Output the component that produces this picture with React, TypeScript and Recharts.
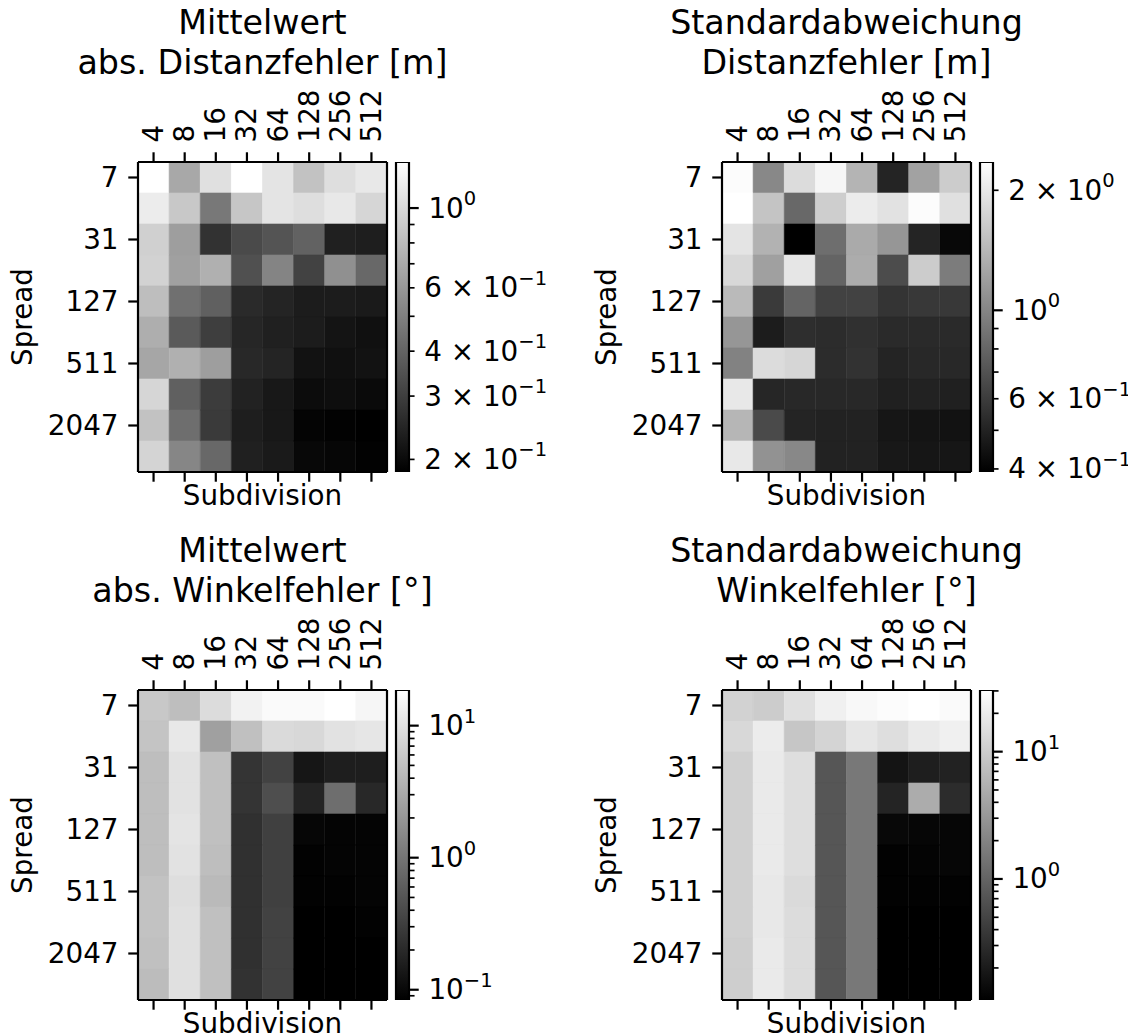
import React from 'react';
import { BarChart, Bar, XAxis, YAxis, Cell } from 'recharts';

// ---------- data ----------
const subdivisions = ['4', '8', '16', '32', '64', '128', '256', '512'];
const spreads = [7, 15, 31, 63, 127, 255, 511, 1023, 2047, 4095];

// rows = spreads (top to bottom), columns = subdivisions
const meanDistErr = [
  [1.343, 0.682, 1.054, 1.343, 1.089, 0.836, 1.038, 1.122],
  [1.159, 0.875, 0.47, 0.861, 1.089, 1.038, 1.122, 0.975],
  [0.931, 0.631, 0.272, 0.328, 0.355, 0.395, 0.237, 0.233],
  [0.946, 0.641, 0.726, 0.344, 0.515, 0.308, 0.566, 0.415],
  [0.809, 0.442, 0.389, 0.256, 0.244, 0.23, 0.23, 0.226],
  [0.715, 0.372, 0.299, 0.248, 0.237, 0.23, 0.216, 0.209],
  [0.671, 0.726, 0.631, 0.252, 0.244, 0.212, 0.209, 0.212],
  [0.975, 0.389, 0.294, 0.24, 0.222, 0.203, 0.206, 0.2],
  [0.836, 0.435, 0.29, 0.233, 0.222, 0.19, 0.187, 0.1845],
  [0.961, 0.524, 0.415, 0.237, 0.226, 0.197, 0.193, 0.187],
];

const stdDistErr = [
  [2.307, 1.021, 1.841, 2.213, 1.39, 0.506, 1.225, 1.644],
  [2.355, 1.556, 0.815, 1.667, 2.061, 1.921, 2.307, 1.892],
  [1.95, 1.371, 0.393, 0.851, 1.297, 1.127, 0.506, 0.415],
  [1.791, 1.208, 1.977, 0.792, 1.315, 0.67, 1.644, 0.938],
  [1.449, 0.59, 0.792, 0.624, 0.624, 0.566, 0.582, 0.582],
  [1.127, 0.478, 0.542, 0.535, 0.55, 0.527, 0.527, 0.527],
  [0.979, 1.841, 1.766, 0.535, 0.558, 0.506, 0.52, 0.52],
  [2.004, 0.513, 0.52, 0.52, 0.52, 0.492, 0.499, 0.492],
  [1.409, 0.661, 0.506, 0.499, 0.499, 0.458, 0.452, 0.446],
  [2.004, 1.094, 1.021, 0.499, 0.499, 0.465, 0.458, 0.458],
];

const meanAngErr = [
  [5.81, 4.69, 8.87, 14.13, 16.75, 16.75, 18.62, 15.38],
  [5.33, 11.43, 2.48, 4.9, 8.49, 8.15, 10.07, 10.96],
  [4.69, 10.07, 4.9, 0.252, 0.339, 0.133, 0.158, 0.158],
  [4.69, 10.07, 4.9, 0.252, 0.437, 0.179, 0.861, 0.195],
  [4.69, 10.5, 4.9, 0.231, 0.324, 0.0948, 0.091, 0.091],
  [4.69, 10.07, 4.69, 0.231, 0.324, 0.0871, 0.091, 0.091],
  [5.11, 9.25, 4.31, 0.231, 0.324, 0.0871, 0.0871, 0.091],
  [5.11, 9.66, 4.9, 0.231, 0.339, 0.0836, 0.0836, 0.0871],
  [4.9, 9.66, 4.9, 0.231, 0.339, 0.0836, 0.0836, 0.0836],
  [4.5, 9.66, 4.9, 0.241, 0.339, 0.0836, 0.0836, 0.0836],
];

const stdAngErr = [
  [11.35, 9.95, 15.45, 21.97, 26.2, 28.6, 30.5, 27.4],
  [12.97, 20.1, 8.73, 11.86, 17.6, 14.79, 19.2, 21.97],
  [10.86, 19.2, 14.79, 0.743, 1.57, 0.174, 0.217, 0.237],
  [10.86, 19.2, 14.79, 0.743, 1.57, 0.248, 4.92, 0.295],
  [10.86, 19.2, 14.79, 0.743, 1.57, 0.134, 0.128, 0.128],
  [10.86, 19.2, 14.79, 0.743, 1.57, 0.117, 0.122, 0.128],
  [10.86, 18.4, 13.55, 0.743, 1.57, 0.117, 0.117, 0.117],
  [10.86, 18.4, 14.16, 0.743, 1.57, 0.112, 0.112, 0.112],
  [10.4, 19.2, 14.16, 0.743, 1.57, 0.112, 0.112, 0.112],
  [10.4, 19.2, 14.16, 0.743, 1.57, 0.112, 0.112, 0.112],
];

const titleMeanDist = ['Mittelwert', 'abs. Distanzfehler [m]'];
const titleStdDist = ['Standardabweichung', 'Distanzfehler [m]'];
const titleMeanAng = ['Mittelwert', 'abs. Winkelfehler [°]'];
const titleStdAng = ['Standardabweichung', 'Winkelfehler [°]'];

// colorbar ticks that carry a label
const cbLabelsMeanDist = [1, 0.6, 0.4, 0.3, 0.2];
const cbLabelsStdDist = [2, 1, 0.6, 0.4];
const cbLabelsMeanAng = [0.1, 1, 10];
const cbLabelsStdAng = [1, 10];

// ---------- styling ----------
const FONT = '"DejaVu Sans", sans-serif';
const TICK_FS = 27.8;
const TITLE_FS = 33.3;
const LW = 2.2;
const MAJOR = 9.72;
const MINOR = 5.56;
const PAD = 9.72;

const grayOf = (v: number, lo: number, hi: number) => {
  const t = (Math.log10(v) - Math.log10(lo)) / (Math.log10(hi) - Math.log10(lo));
  const g = Math.round(Math.max(0, Math.min(1, t)) * 255);
  return `rgb(${g},${g},${g})`;
};

const TopTick = (props: any) => {
  const { x, y, payload } = props;
  return (
    <text
      x={x}
      y={y}
      transform={`rotate(-90 ${x} ${y})`}
      textAnchor="start"
      dominantBaseline="central"
      fontSize={TICK_FS}
      fill="#000"
    >
      {payload.value}
    </text>
  );
};

const EmptyTick = () => <g />;

const CbTick = (props: any) => {
  const { x, y, payload, labeled } = props;
  const v = payload.value as number;
  const le = Math.log10(v);
  const isMajor = Math.abs(le - Math.round(le)) < 1e-6;
  const len = isMajor ? MAJOR : MINOR;
  const show = labeled.some((l: number) => Math.abs(l - v) / v < 1e-6);
  const e = Math.floor(le + 1e-9);
  const k = Math.round(v / Math.pow(10, e));
  const mant = k === 1 ? '10' : `${k} × 10`;
  const exp = e < 0 ? `−${-e}` : `${e}`;
  return (
    <g>
      <line x1={x} x2={x + len} y1={y} y2={y} stroke="#000" strokeWidth={isMajor ? LW : 1.67} />
      {show && (
        <text x={x + len + PAD} y={y} dominantBaseline="central" fontSize={TICK_FS} fill="#000">
          {mant}
          <tspan dy={-10} fontSize={19.5}>
            {exp}
          </tspan>
        </text>
      )}
    </g>
  );
};

const rowTicks = spreads.map((_, i) => i).filter((i) => i % 2 === 0).map((i) => i + 0.5);

const Heatmap = ({ values, dx, dy }: { values: number[][]; dx: number; dy: number }) => {
  const flat = values.flat();
  const lo = Math.min(...flat);
  const hi = Math.max(...flat);
  const data = subdivisions.map((name) => {
    const row: any = { name, none: 0 };
    spreads.forEach((_, r) => (row['r' + r] = 1));
    return row;
  });
  const axisStyle = { stroke: '#000', strokeWidth: LW };
  return (
    <div style={{ position: 'absolute', left: dx, top: dy + 60 }}>
      <BarChart
        width={400}
        height={457}
        data={data}
        margin={{ top: 0, right: 0, bottom: 0, left: 0 }}
        barCategoryGap={0}
        barGap={0}
      >
        <XAxis
          xAxisId="t"
          orientation="top"
          dataKey="name"
          type="category"
          height={102}
          interval={0}
          tickSize={MAJOR}
          tickMargin={PAD}
          axisLine={axisStyle}
          tickLine={axisStyle}
          tick={TopTick}
        />
        <XAxis
          xAxisId="b"
          orientation="bottom"
          dataKey="name"
          type="category"
          height={45}
          interval={0}
          tickSize={MAJOR}
          tick={EmptyTick}
          axisLine={axisStyle}
          tickLine={axisStyle}
          label={{ value: 'Subdivision', position: 'insideBottom', offset: 12, fontSize: TICK_FS, fill: '#000' }}
        />
        <YAxis
          yAxisId="l"
          orientation="left"
          type="number"
          domain={[0, spreads.length]}
          allowDataOverflow
          reversed
          ticks={rowTicks}
          interval={0}
          width={138}
          tickSize={MAJOR}
          tickMargin={PAD}
          tickFormatter={(v: number) => String(spreads[Math.floor(v)])}
          tick={{ fontSize: TICK_FS, fill: '#000' }}
          axisLine={axisStyle}
          tickLine={axisStyle}
          label={{
            value: 'Spread',
            angle: -90,
            position: 'insideLeft',
            offset: 22,
            fontSize: TICK_FS,
            fill: '#000',
            style: { textAnchor: 'middle' },
          }}
        />
        <YAxis yAxisId="r" orientation="right" width={13} tick={false} tickLine={false} axisLine={axisStyle} />
        {spreads.map((_, r) => (
          <Bar key={r} dataKey={'r' + r} stackId="s" xAxisId="t" yAxisId="l" isAnimationActive={false}>
            {subdivisions.map((__, c) => {
              const f = grayOf(values[r][c], lo, hi);
              return <Cell key={c} fill={f} stroke={f} strokeWidth={0.6} />;
            })}
          </Bar>
        ))}
        {/* zero-height series that binds the lower tick axis to the categories */}
        <Bar dataKey="none" xAxisId="b" yAxisId="l" fill="none" legendType="none" isAnimationActive={false} />
      </BarChart>
    </div>
  );
};

const Colorbar = ({ values, labeled, dx, dy, id }: { values: number[][]; labeled: number[]; dx: number; dy: number; id: string }) => {
  const flat = values.flat();
  const lo = Math.min(...flat);
  const hi = Math.max(...flat);
  const ticks: number[] = [];
  for (let e = Math.floor(Math.log10(lo)); e <= Math.ceil(Math.log10(hi)); e++) {
    for (let k = 1; k <= 9; k++) {
      const v = Number((k * Math.pow(10, e)).toPrecision(6));
      if (v >= lo && v <= hi) ticks.push(v);
    }
  }
  return (
    <div style={{ position: 'absolute', left: dx + 387, top: dy + 60 }}>
      <BarChart
        width={200}
        height={445}
        data={[{ name: 'cb', range: [lo, hi] }]}
        margin={{ top: 102, bottom: 33, left: 9, right: 0 }}
        barCategoryGap={0}
      >
        <defs>
          <linearGradient id={id} x1="0" y1="0" x2="0" y2="1">
            <stop offset="0" stopColor="#ffffff" />
            <stop offset="1" stopColor="#000000" />
          </linearGradient>
        </defs>
        <XAxis dataKey="name" hide />
        <YAxis
          orientation="right"
          type="number"
          scale="log"
          domain={[lo, hi]}
          allowDataOverflow
          ticks={ticks}
          interval={0}
          width={178}
          tickSize={0}
          tickMargin={0}
          tickLine={false}
          axisLine={false}
          tick={(p: any) => <CbTick {...p} labeled={labeled} />}
        />
        <Bar dataKey="range" fill={`url(#${id})`} stroke="#000" strokeWidth={LW} isAnimationActive={false} />
      </BarChart>
    </div>
  );
};

const Title = ({ lines, dx, dy }: { lines: string[]; dx: number; dy: number }) => (
  <div
    style={{
      position: 'absolute',
      left: dx + 262.5 - 300,
      top: dy + 2.5,
      width: 600,
      textAlign: 'center',
      fontSize: TITLE_FS,
      lineHeight: '40px',
      whiteSpace: 'nowrap',
      color: '#000',
    }}
  >
    {lines.map((l, i) => (
      <div key={i}>{l}</div>
    ))}
  </div>
);

const panels = [
  { id: 'g1', values: meanDistErr, labeled: cbLabelsMeanDist, title: titleMeanDist, dx: 0, dy: 0 },
  { id: 'g2', values: stdDistErr, labeled: cbLabelsStdDist, title: titleStdDist, dx: 584, dy: 0 },
  { id: 'g3', values: meanAngErr, labeled: cbLabelsMeanAng, title: titleMeanAng, dx: 0, dy: 528 },
  { id: 'g4', values: stdAngErr, labeled: cbLabelsStdAng, title: titleStdAng, dx: 584, dy: 528 },
];

export default function App() {
  return (
    <div
      style={{
        position: 'absolute',
        left: 0,
        top: 0,
        width: 1128,
        height: 1036,
        background: '#fff',
        fontFamily: FONT,
        overflow: 'hidden',
      }}
    >
      {panels.map((p) => (
        <React.Fragment key={p.id}>
          <Title lines={p.title} dx={p.dx} dy={p.dy} />
          <Heatmap values={p.values} dx={p.dx} dy={p.dy} />
          <Colorbar values={p.values} labeled={p.labeled} dx={p.dx} dy={p.dy} id={p.id} />
        </React.Fragment>
      ))}
    </div>
  );
}
